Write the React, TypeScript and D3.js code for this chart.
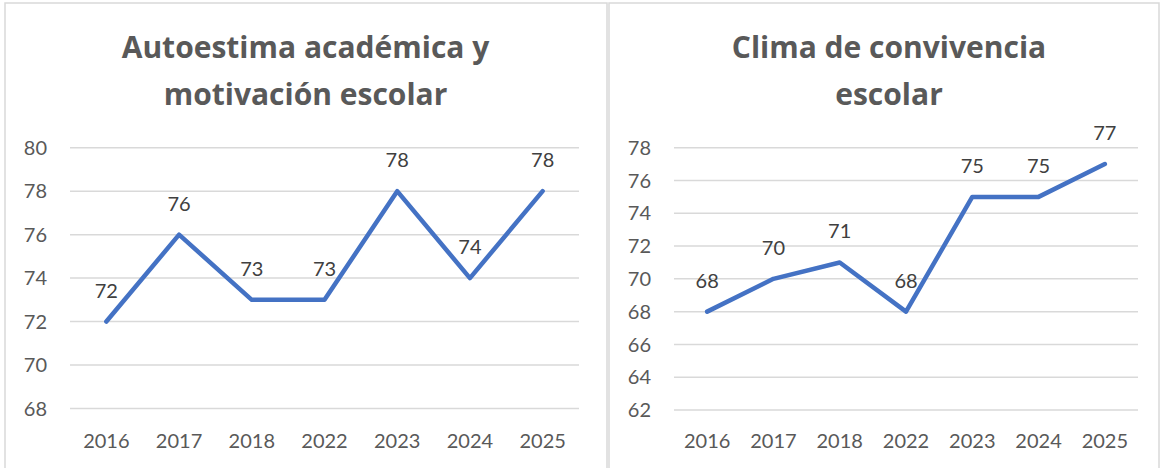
import React from "react";
import * as d3 from "d3";

const years = ["2016", "2017", "2018", "2022", "2023", "2024", "2025"];
const autoestima = [72, 76, 73, 73, 78, 74, 78];
const clima = [68, 70, 71, 68, 75, 75, 77];
const leftTicks = [68, 70, 72, 74, 76, 78, 80];
const rightTicks = [62, 64, 66, 68, 70, 72, 74, 76, 78];
const leftTitle = ["Autoestima académica y", "motivación escolar"];
const rightTitle = ["Clima de convivencia", "escolar"];

const FONT = "Lato, 'Open Sans', sans-serif";
const TITLE_FONT = "'Open Sans', Lato, sans-serif";
const LINE = "#4472C4";
const GRID = "#d9d9d9";
const AXIS_TXT = "#595959";
const LABEL_TXT = "#404040";

type PanelProps = {
  values: number[];
  ticks: number[];
  title: string[];
  x0: number;
  x1: number;
  yTop: number;
  yBottom: number;
  titleX: number;
};

function Panel({ values, ticks, title, x0, x1, yTop, yBottom, titleX }: PanelProps) {
  const x = d3.scaleBand<string>().domain(years).range([x0, x1]).padding(0);
  const y = d3
    .scaleLinear()
    .domain([d3.min(ticks) as number, d3.max(ticks) as number])
    .range([yBottom, yTop]);
  const cx = (d: string) => (x(d) as number) + x.bandwidth() / 2;
  const line = d3
    .line<number>()
    .x((_, i) => cx(years[i]))
    .y((v) => y(v));
  return (
    <g>
      {title.map((t, i) => (
        <text
          key={i}
          x={titleX}
          y={58 + i * 46.5}
          textAnchor="middle"
          fontFamily={TITLE_FONT}
          fontWeight="bold"
          fontSize={30}
          fill={AXIS_TXT}
        >
          {t}
        </text>
      ))}
      {ticks.map((t) => (
        <g key={t}>
          <line x1={x0} x2={x1} y1={y(t)} y2={y(t)} stroke={GRID} strokeWidth={1.5} />
          <text
            x={x0 - 23}
            y={y(t)}
            dy="0.36em"
            textAnchor="end"
            fontFamily={FONT}
            fontSize={20}
            fill={AXIS_TXT}
          >
            {t}
          </text>
        </g>
      ))}
      {years.map((yr) => (
        <text
          key={yr}
          x={cx(yr)}
          y={448}
          textAnchor="middle"
          fontFamily={FONT}
          fontSize={20}
          fill={AXIS_TXT}
        >
          {yr}
        </text>
      ))}
      <path
        d={line(values) as string}
        fill="none"
        stroke={LINE}
        strokeWidth={4.5}
        strokeLinejoin="round"
        strokeLinecap="round"
      />
      {values.map((v, i) => (
        <text
          key={i}
          x={cx(years[i])}
          y={y(v) - 24}
          textAnchor="middle"
          fontFamily={FONT}
          fontSize={20}
          fill={LABEL_TXT}
        >
          {v}
        </text>
      ))}
    </g>
  );
}

export default function App() {
  return (
    <svg
      width={1162}
      height={468}
      style={{ position: "absolute", left: 0, top: 0, background: "#fff" }}
    >
      <rect x={0} y={0} width={1162} height={468} fill="#fff" />
      <rect x={5} y={3} width={602} height={480} fill="#fff" stroke={GRID} strokeWidth={1.5} />
      <rect x={609} y={3} width={550} height={480} fill="#fff" stroke={GRID} strokeWidth={1.5} />
      <Panel
        values={autoestima}
        ticks={leftTicks}
        title={leftTitle}
        x0={70}
        x1={579}
        yTop={147.7}
        yBottom={408.5}
        titleX={305.5}
      />
      <Panel
        values={clima}
        ticks={rightTicks}
        title={rightTitle}
        x0={674}
        x1={1138}
        yTop={147.7}
        yBottom={410}
        titleX={889}
      />
    </svg>
  );
}
